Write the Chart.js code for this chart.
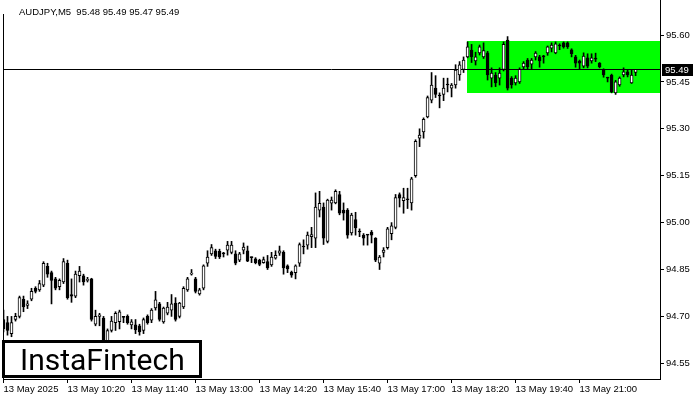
<!DOCTYPE html>
<html>
<head>
<meta charset="utf-8">
<script src="https://cdn.jsdelivr.net/npm/chart.js@4/dist/chart.umd.min.js"></script>
<style>
  html, body { margin: 0; padding: 0; background: #fff; }
</style>
</head>
<body>
<canvas id="candle_chart" width="700" height="400"></canvas>
<script>
const symbol_title = "AUDJPY,M5  95.48 95.49 95.47 95.49";
const logo_text = "InstaFintech";

// M5 bars, 13 May 2025 from 09:00
const open_price = [
  94.69, 94.68, 94.645, 94.69, 94.70, 94.755, 94.735, 94.755, 94.79, 94.785,
  94.80, 94.86, 94.84, 94.82, 94.795, 94.81, 94.87, 94.77, 94.765, 94.83,
  94.83, 94.815, 94.82, 94.675, 94.70, 94.695, 94.62, 94.655, 94.68, 94.683,
  94.697, 94.70, 94.673, 94.673, 94.67, 94.655, 94.70, 94.688, 94.727, 94.74,
  94.682, 94.71, 94.72, 94.743, 94.70, 94.73, 94.785, 94.835, 94.82, 94.772,
  94.79, 94.87, 94.90, 94.91, 94.908, 94.90, 94.912, 94.905, 94.90, 94.88,
  94.912, 94.91, 94.888, 94.884, 94.88, 94.872, 94.875, 94.865, 94.886, 94.902,
  94.905, 94.862, 94.842, 94.84, 94.87, 94.922, 94.928, 94.955, 94.95, 95.04,
  95.05, 94.94, 95.062, 95.063, 95.09, 95.04, 95.04, 94.967, 95.01, 94.97,
  94.96, 94.96, 94.97, 94.95, 94.87, 94.905, 94.92, 94.965, 94.985, 95.09,
  95.07, 95.073, 95.063, 95.15, 95.27, 95.29, 95.338, 95.392, 95.43, 95.405,
  95.41, 95.44, 95.43, 95.44, 95.472, 95.49, 95.53, 95.552, 95.517, 95.543,
  95.53, 95.543, 95.462, 95.472, 95.462, 95.49, 95.584, 95.462, 95.447, 95.45,
  95.498, 95.52, 95.507, 95.53, 95.53, 95.53, 95.543, 95.558, 95.543, 95.565,
  95.575, 95.575, 95.553, 95.53, 95.517, 95.50, 95.527, 95.517, 95.523, 95.51,
  95.49, 95.462, 95.472, 95.415, 95.44, 95.472, 95.482, 95.447, 95.48
];
const high_price = [
  94.72, 94.70, 94.70, 94.71, 94.765, 94.765, 94.75, 94.79, 94.795, 94.815,
  94.875, 94.87, 94.845, 94.825, 94.82, 94.885, 94.88, 94.82, 94.845, 94.86,
  94.835, 94.825, 94.822, 94.72, 94.71, 94.70, 94.66, 94.70, 94.715, 94.72,
  94.70, 94.705, 94.69, 94.69, 94.675, 94.695, 94.705, 94.725, 94.78, 94.745,
  94.73, 94.745, 94.77, 94.76, 94.745, 94.795, 94.825, 94.85, 94.825, 94.79,
  94.865, 94.91, 94.93, 94.915, 94.915, 94.905, 94.94, 94.94, 94.91, 94.905,
  94.935, 94.925, 94.89, 94.888, 94.883, 94.89, 94.895, 94.905, 94.91, 94.925,
  94.91, 94.865, 94.845, 94.865, 94.935, 94.945, 94.97, 94.985, 95.095, 95.10,
  95.063, 95.075, 95.082, 95.105, 95.10, 95.063, 95.045, 95.03, 95.033, 94.98,
  94.965, 94.962, 94.975, 94.952, 94.895, 94.92, 94.985, 95.00, 95.09, 95.095,
  95.11, 95.11, 95.145, 95.265, 95.30, 95.335, 95.405, 95.48, 95.47, 95.415,
  95.462, 95.462, 95.445, 95.505, 95.515, 95.53, 95.578, 95.57, 95.545, 95.568,
  95.575, 95.548, 95.495, 95.48, 95.495, 95.578, 95.595, 95.467, 95.47, 95.495,
  95.515, 95.525, 95.525, 95.547, 95.535, 95.535, 95.565, 95.575, 95.578, 95.572,
  95.578, 95.578, 95.556, 95.535, 95.52, 95.543, 95.54, 95.54, 95.542, 95.512,
  95.492, 95.465, 95.475, 95.455, 95.466, 95.495, 95.49, 95.488, 95.49
];
const low_price = [
  94.65, 94.64, 94.635, 94.685, 94.695, 94.715, 94.725, 94.75, 94.775, 94.78,
  94.795, 94.825, 94.74, 94.785, 94.785, 94.805, 94.755, 94.745, 94.76, 94.81,
  94.80, 94.81, 94.685, 94.67, 94.67, 94.61, 94.61, 94.65, 94.655, 94.66,
  94.68, 94.675, 94.66, 94.645, 94.64, 94.645, 94.675, 94.68, 94.72, 94.685,
  94.678, 94.705, 94.70, 94.685, 94.695, 94.725, 94.78, 94.832, 94.775, 94.768,
  94.785, 94.86, 94.895, 94.885, 94.885, 94.89, 94.896, 94.90, 94.865, 94.875,
  94.90, 94.875, 94.872, 94.868, 94.862, 94.87, 94.85, 94.86, 94.883, 94.895,
  94.835, 94.84, 94.825, 94.82, 94.86, 94.90, 94.915, 94.92, 94.92, 95.018,
  94.93, 94.935, 95.04, 95.06, 95.025, 95.008, 94.95, 94.96, 94.96, 94.955,
  94.928, 94.928, 94.935, 94.875, 94.85, 94.89, 94.915, 94.945, 94.98, 95.05,
  95.03, 95.045, 95.04, 95.145, 95.243, 95.27, 95.335, 95.383, 95.40, 95.367,
  95.39, 95.418, 95.402, 95.43, 95.455, 95.48, 95.527, 95.512, 95.504, 95.536,
  95.525, 95.456, 95.434, 95.435, 95.44, 95.485, 95.424, 95.43, 95.44, 95.445,
  95.49, 95.49, 95.49, 95.52, 95.497, 95.51, 95.535, 95.546, 95.54, 95.553,
  95.558, 95.557, 95.53, 95.497, 95.49, 95.495, 95.495, 95.51, 95.515, 95.495,
  95.465, 95.45, 95.415, 95.41, 95.436, 95.466, 95.466, 95.445, 95.47
];
const close_price = [
  94.66, 94.655, 94.68, 94.70, 94.76, 94.73, 94.74, 94.78, 94.78, 94.805,
  94.87, 94.835, 94.815, 94.79, 94.815, 94.875, 94.76, 94.765, 94.835, 94.845,
  94.81, 94.817, 94.69, 94.70, 94.705, 94.62, 94.655, 94.685, 94.71, 94.715,
  94.697, 94.68, 94.683, 94.657, 94.65, 94.69, 94.68, 94.72, 94.753, 94.69,
  94.727, 94.73, 94.74, 94.69, 94.743, 94.79, 94.82, 94.837, 94.78, 94.785,
  94.862, 94.89, 94.92, 94.892, 94.89, 94.90, 94.928, 94.928, 94.87, 94.90,
  94.922, 94.877, 94.888, 94.872, 94.866, 94.882, 94.855, 94.89, 94.895, 94.91,
  94.855, 94.852, 94.832, 94.862, 94.93, 94.922, 94.96, 94.962, 95.05, 95.062,
  94.95, 95.072, 95.072, 95.10, 95.03, 95.03, 94.96, 95.024, 94.983, 94.97,
  94.95, 94.96, 94.96, 94.88, 94.89, 94.912, 94.98, 94.99, 95.08, 95.078,
  95.08, 95.073, 95.14, 95.26, 95.28, 95.33, 95.40, 95.44, 95.41, 95.405,
  95.43, 95.44, 95.44, 95.488, 95.505, 95.52, 95.562, 95.53, 95.53, 95.562,
  95.55, 95.472, 95.478, 95.447, 95.478, 95.57, 95.43, 95.44, 95.462, 95.49,
  95.51, 95.498, 95.52, 95.542, 95.517, 95.53, 95.562, 95.568, 95.572, 95.565,
  95.562, 95.563, 95.54, 95.51, 95.51, 95.533, 95.50, 95.527, 95.523, 95.498,
  95.472, 95.462, 95.418, 95.45, 95.462, 95.482, 95.472, 95.472, 95.49
];

const time_labels = ["13 May 2025", "13 May 10:20", "13 May 11:40", "13 May 13:00", "13 May 14:20",
  "13 May 15:40", "13 May 17:00", "13 May 18:20", "13 May 19:40", "13 May 21:00"];
const time_label_bars = [0, 16, 32, 48, 64, 80, 96, 112, 128, 144];
const price_ticks = [94.55, 94.70, 94.85, 95.00, 95.15, 95.30, 95.45, 95.60];
const last_price = 95.49;

// flat range (green rectangle)
const range_start_bar = 115.9;
const range_high = 95.582;
const range_low = 95.415;

const bar_index = open_price.map((v, i) => i);

const body_data = bar_index.map(i => ({
  x: i,
  y: [Math.min(open_price[i], close_price[i]), Math.max(open_price[i], close_price[i])],
}));
const body_colors = bar_index.map(i => (close_price[i] > open_price[i] ? "#ffffff" : "#000000"));
const wick_data = bar_index.map(i => ({ x: i, y: [low_price[i], high_price[i]] }));

const small_font = { family: "Liberation Sans", size: 9.5 };

const overlay_plugin = {
  id: "overlay",
  beforeDraw(chart) {
    const ctx = chart.ctx;
    ctx.save();
    ctx.fillStyle = "#fff";
    ctx.fillRect(0, 0, chart.width, chart.height);
    ctx.restore();
  },
  beforeDatasetsDraw(chart) {
    const { ctx, chartArea, scales } = chart;
    ctx.save();
    // range box
    const x0 = Math.round(scales.x.getPixelForValue(range_start_bar));
    const y0 = Math.round(scales.y.getPixelForValue(range_high));
    const y1 = Math.round(scales.y.getPixelForValue(range_low));
    ctx.fillStyle = "#00ff00";
    ctx.fillRect(x0, y0, chartArea.right - x0, y1 - y0);
    // bid line
    const py = Math.round(scales.y.getPixelForValue(last_price)) + 0.5;
    ctx.strokeStyle = "#000";
    ctx.lineWidth = 1;
    ctx.beginPath();
    ctx.moveTo(chartArea.left, py);
    ctx.lineTo(chartArea.right, py);
    ctx.stroke();
    ctx.restore();
  },
  afterDraw(chart) {
    const { ctx, chartArea, scales } = chart;
    ctx.save();
    // left frame
    ctx.strokeStyle = "#000";
    ctx.lineWidth = 1;
    ctx.beginPath();
    ctx.moveTo(chartArea.left + 0.5, 14);
    ctx.lineTo(chartArea.left + 0.5, chartArea.bottom);
    ctx.stroke();

    // title
    ctx.fillStyle = "#000";
    ctx.font = "9.5px 'Liberation Sans'";
    ctx.textBaseline = "alphabetic";
    ctx.textAlign = "left";
    ctx.fillText(symbol_title, 19, 15);

    // last price label
    const py = Math.round(scales.y.getPixelForValue(last_price));
    ctx.fillStyle = "#000";
    ctx.fillRect(chartArea.right + 2, py - 5, 31, 12);
    ctx.fillStyle = "#fff";
    ctx.textBaseline = "middle";
    ctx.fillText(last_price.toFixed(2), chartArea.right + 5, py + 1);

    // logo
    ctx.fillStyle = "#fff";
    ctx.fillRect(3.5, 341.5, 197, 35);
    ctx.strokeStyle = "#000";
    ctx.lineWidth = 3;
    ctx.strokeRect(3.5, 341.5, 197, 35);
    ctx.fillStyle = "#000";
    ctx.font = "400 30px Roboto";
    ctx.textBaseline = "alphabetic";
    ctx.fillText(logo_text, 20, 370);
    ctx.restore();
  },
};

const candle_ctx = document.getElementById("candle_chart");

const candle_chart = new Chart(candle_ctx, {
  type: "bar",
  data: {
    datasets: [
      {
        data: body_data,
        backgroundColor: body_colors,
        borderColor: "#000",
        borderWidth: 1,
        borderSkipped: false,
        barThickness: 3,
        minBarLength: 1,
        grouped: false,
      },
      {
        data: wick_data,
        backgroundColor: "#000",
        borderWidth: 0,
        barThickness: 1,
        minBarLength: 1,
        grouped: false,
      },
    ],
  },
  options: {
    responsive: false,
    animation: false,
    devicePixelRatio: 1,
    layout: { padding: { left: 3, top: 0, right: 0, bottom: 0 } },
    plugins: {
      legend: { display: false },
      tooltip: { enabled: false },
    },
    scales: {
      x: {
        type: "linear",
        min: -0.125,
        max: 164.1,
        offset: false,
        grid: { offset: false, drawOnChartArea: false, drawTicks: true, tickLength: 4, color: "#000" },
        border: { display: true, color: "#000", width: 1 },
        afterBuildTicks: (s) => {
          s.ticks = time_label_bars.map(v => ({ value: v }));
        },
        afterFit: (s) => {
          s.height = 21;
          s.paddingLeft = 0;
          s.paddingRight = 0;
        },
        ticks: {
          autoSkip: false,
          maxRotation: 0,
          minRotation: 0,
          align: "start",
          padding: 1,
          color: "#000",
          font: small_font,
          callback: (v) => time_labels[time_label_bars.indexOf(v)],
        },
      },
      y: {
        position: "right",
        min: 94.4998,
        max: 95.712,
        beginAtZero: false,
        grid: { drawOnChartArea: false, drawTicks: true, tickLength: 4, color: "#000" },
        border: { display: true, color: "#000", width: 1 },
        afterBuildTicks: (s) => {
          s.ticks = price_ticks.map(v => ({ value: v }));
        },
        afterFit: (s) => {
          s.width = 40;
          s.paddingTop = 0;
          s.paddingBottom = 0;
        },
        ticks: {
          padding: 2,
          color: "#000",
          font: small_font,
          callback: (v) => v.toFixed(2),
        },
      },
    },
  },
  plugins: [overlay_plugin],
});
</script>
</body>
</html>
